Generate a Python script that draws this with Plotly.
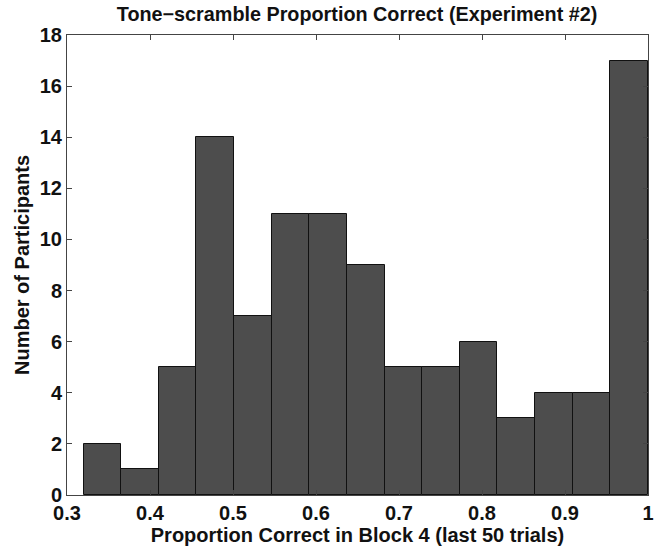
import plotly.graph_objects as go

counts = [2, 1, 5, 14, 7, 11, 11, 9, 5, 5, 6, 3, 4, 4, 17]
bin_start = 0.32
bin_end = 1.0
x_ticks = [0.3, 0.4, 0.5, 0.6, 0.7, 0.8, 0.9, 1.0]
x_tick_labels = ["0.3", "0.4", "0.5", "0.6", "0.7", "0.8", "0.9", "1"]
y_ticks = [0, 2, 4, 6, 8, 10, 12, 14, 16, 18]

n = len(counts)
w = (bin_end - bin_start) / n
centers = [bin_start + w * (i + 0.5) for i in range(n)]

FONT = "Liberation Sans, Arial, sans-serif"

fig = go.Figure(go.Bar(
    x=centers, y=counts, width=[w] * n,
    marker=dict(color="#4d4d4d", line=dict(color="#111111", width=1)),
))

axis_common = dict(
    showgrid=False, zeroline=False, showline=True, linecolor="#444444", linewidth=1,
    mirror="ticks", ticks="inside", ticklen=5, tickcolor="#444444",
    tickfont=dict(family=FONT, size=20, color="#111111", weight="bold"),
    automargin=False,
)

fig.update_layout(
    width=660, height=547,
    margin=dict(l=67, r=12, t=35, b=52),
    paper_bgcolor="white", plot_bgcolor="white",
    bargap=0,
    showlegend=False,
    title=dict(text="<b>Tone\u2212scramble Proportion Correct (Experiment #2)</b>",
               x=0.541, xanchor="center", y=0.975, yanchor="middle",
               font=dict(family=FONT, size=19.8, color="#111111")),
    xaxis=dict(range=[0.3, 1.0], tickvals=x_ticks, ticktext=x_tick_labels,
               title=dict(text="<b>Proportion Correct in Block 4 (last 50 trials)</b>",
                          font=dict(family=FONT, size=20, color="#111111"), standoff=2),
               **axis_common),
    yaxis=dict(range=[0, 18], tickvals=y_ticks,
               title=dict(text="<b>Number of Participants</b>",
                          font=dict(family=FONT, size=20, color="#111111"), standoff=4),
               **axis_common),
)

fig.write_html("out.html", config={"displayModeBar": False},
               post_script="document.body.style.margin='0';document.body.style.overflow='hidden';")
